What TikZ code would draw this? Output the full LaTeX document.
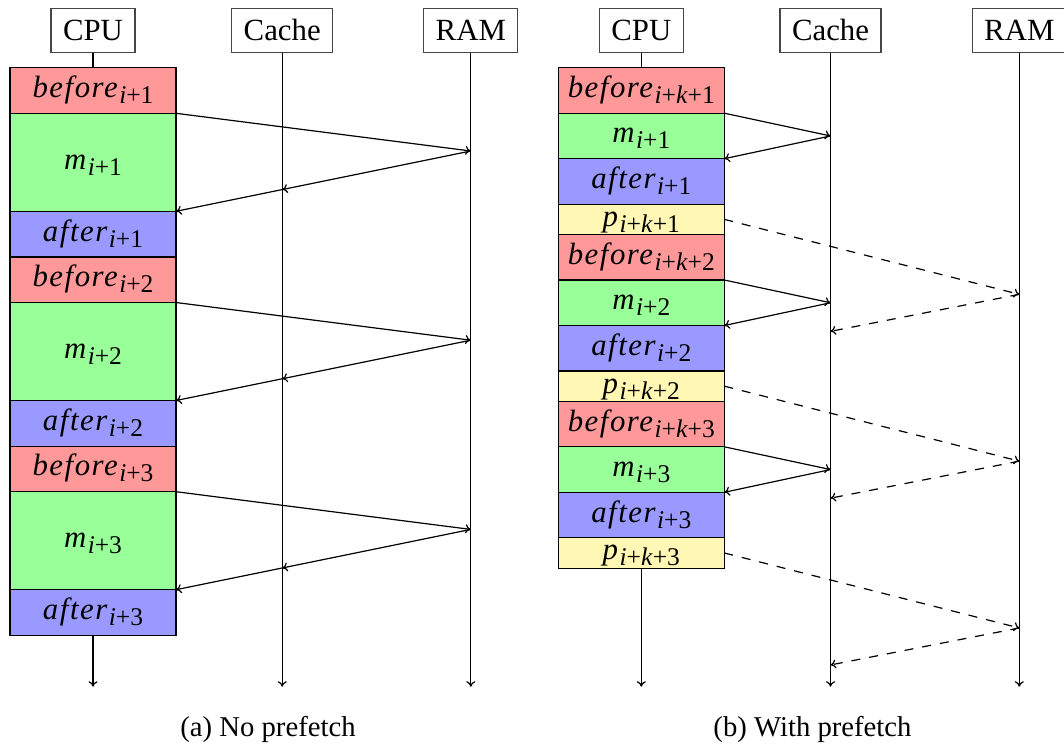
\documentclass[tikz,border=0pt]{standalone}
\usepackage{fontspec}
\setmainfont{Liberation Serif}
\newfontfamily\labfont[LetterSpace=5]{Liberation Serif}
\usetikzlibrary{calc,arrows.meta}
\definecolor{cbef}{RGB}{255,153,153}
\definecolor{cmid}{RGB}{153,255,153}
\definecolor{caft}{RGB}{153,153,255}
\definecolor{cpre}{RGB}{255,247,179}
\definecolor{hdrline}{RGB}{70,70,70}
\newcommand\hsz{\fontsize{30.8}{36}\selectfont}
\newcommand\capsz{\fontsize{28.7}{34}\selectfont}
\newcommand\ssz{\fontsize{25.5}{28}\selectfont}
\newcommand\lab[2]{{\labfont\itshape #1}\kern1.5pt\raisebox{-6pt}{\ssz #2}}
\tikzset{
  tip/.tip={To[length=5.5pt,width=9pt]},
  hdr/.style={draw=hdrline, font=\hsz, inner xsep=12pt, inner ysep=0pt, minimum height=44pt, line width=1.2pt},
  blk/.style={draw, minimum width=166pt, inner sep=0pt, outer sep=0pt, font=\hsz,
              text height=21pt, text depth=7pt, line width=1.2pt},
  bef/.style={blk, fill=cbef, minimum height=45.6pt},
  mbig/.style={blk, fill=cmid, minimum height=98pt},
  msmall/.style={blk, fill=cmid, minimum height=45.5pt},
  aft/.style={blk, fill=caft, minimum height=45.6pt},
  pre/.style={blk, fill=cpre, minimum height=30.3pt},
  lline/.style={line width=1.2pt},
  life/.style={-tip, line width=1.2pt},
  msg/.style={-tip, line width=1.2pt},
  pf/.style={-tip, line width=1.2pt, dash pattern=on 9pt off 9pt},
  captxt/.style={font=\capsz, anchor=base}
}
\begin{document}
\begin{tikzpicture}[x=1pt,y=-1pt]
\useasboundingbox (0,0) rectangle (1064,747);
\clip (0,0) rectangle (1064,747);
\coordinate (endL) at (0,686.7);
% ---------- (a) No prefetch ----------
\node[hdr] (cpuA) at (93,30.3) {CPU};
\node[hdr] (cacheA) at (282.2,30.3) {Cache};
\node[hdr] (ramA) at (470.8,30.3) {RAM};
\draw[life] (cacheA.south) -- (cacheA.south |- endL);
\draw[life] (ramA.south) -- (ramA.south |- endL);
\foreach \k in {1,2,3} {
  \pgfmathsetmacro\o{(\k-1)*189.2}
  \node[bef] (bA\k) at (93,90.5+\o) {\lab{before}{\textit{i}+\k}};
  \node[mbig] (mA\k) at (93,162.3+\o) {\lab{m}{\textit{i}+\k}};
  \node[aft] (aA\k) at (93,234.1+\o) {\lab{after}{\textit{i}+\k}};
  \coordinate (rA\k) at (470.8,151+\o);
  \coordinate (cA\k) at ($(rA\k)!0.6398!(mA\k.south east)$);
  \draw[msg] (mA\k.north east) -- (rA\k);
  \draw[msg] (rA\k) -- (cA\k);
  \draw[msg] (cA\k) -- (mA\k.south east);
}
\draw[lline] (cpuA.south) -- (bA1.north);
\draw[life] (aA3.south) -- (aA3.south |- endL);
\node[captxt] (capA) at (268,736.7) {(a) No prefetch};
% ---------- (b) With prefetch ----------
\node[hdr] (cpuB) at (641.3,30.3) {CPU};
\node[hdr] (cacheB) at (830.5,30.3) {Cache};
\node[hdr] (ramB) at (1019.3,30.3) {RAM};
\draw[life] (cacheB.south) -- (cacheB.south |- endL);
\draw[life] (ramB.south) -- (ramB.south |- endL);
\foreach \k in {1,2,3} {
  \pgfmathsetmacro\o{(\k-1)*166.8}
  \node[bef, minimum height=45.5pt] (bB\k) at (641.3,90.45+\o) {\lab{before}{\textit{i}+\textit{k}+\k}};
  \node[msmall] (mB\k) at (641.3,135.95+\o) {\lab{m}{\textit{i}+\k}};
  \node[aft, minimum height=45.5pt] (aB\k) at (641.3,181.45+\o) {\lab{after}{\textit{i}+\k}};
  \node[pre] (pB\k) at (641.3,219.35+\o) {\lab{p}{\textit{i}+\textit{k}+\k}};
  \coordinate (cB\k) at (830.5,135.95+\o);
  \draw[msg] (mB\k.north east) -- (cB\k);
  \draw[msg] (cB\k) -- (mB\k.south east);
  \coordinate (rB\k) at (1019.3,294.35+\o);
  \coordinate (dB\k) at (830.5,331.35+\o);
  \draw[pf] (pB\k.east) -- (rB\k);
  \draw[pf] (rB\k) -- (dB\k);
}
\draw[lline] (cpuB.south) -- (bB1.north);
\draw[life] (pB3.south) -- (pB3.south |- endL);
\node[captxt] (capB) at (812.5,736.7) {(b) With prefetch};
\end{tikzpicture}
\end{document}
